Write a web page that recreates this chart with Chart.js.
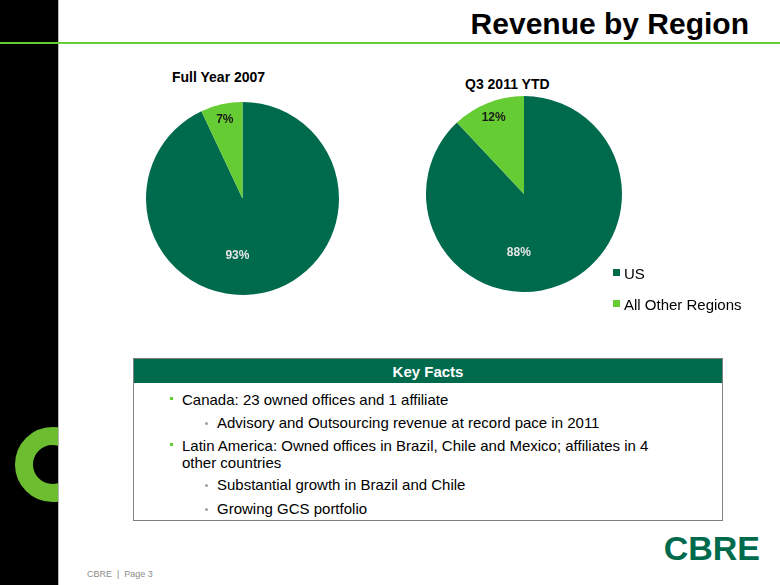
<!DOCTYPE html>
<html>
<head>
<meta charset="utf-8">
<script src="https://cdn.jsdelivr.net/npm/chart.js@4.4.1/dist/chart.umd.min.js"></script>
<style>
  html, body { margin: 0; padding: 0; background: #fff; }
  body { width: 780px; height: 585px; position: relative; overflow: hidden;
         font-family: "Liberation Sans", Arial, sans-serif; color: #000; }
  .abs { position: absolute; white-space: nowrap; }
  #sidebar { position: absolute; left: 0; top: 0; width: 58px; height: 585px; background: #000; overflow: hidden; }
  #sidebar .ring { position: absolute; left: 15px; top: 427px; width: 75px; height: 75px;
                   box-sizing: border-box; border: 18.5px solid #6cbd2f; border-radius: 50%; }
  #edge { position: absolute; left: 58px; top: 0; width: 1px; height: 585px; background: #b5b5b5; }
  #rule { position: absolute; left: 0; top: 42px; width: 780px; height: 2px; background: #66cc33; }
  #title { right: 31px; top: 9px; font-size: 30px; line-height: 30px; font-weight: bold; }
  .ptitle { font-size: 14px; line-height: 14px; font-weight: bold; }
  .pie { position: absolute; }
  .leg { font-size: 15px; line-height: 15px; }
  .sw { position: absolute; width: 7px; height: 7px; }
  #box { position: absolute; left: 133px; top: 358px; width: 590px; height: 163px;
         border: 1px solid #808080; box-sizing: border-box; }
  #boxhead { position: absolute; left: 0; top: 0; width: 100%; height: 24px; background: #006a4d;
             color: #fff; font-weight: bold; font-size: 15px; line-height: 15px; text-align: center; }
  #boxhead span { position: relative; top: 5px; }
  .fact { font-size: 15px; line-height: 15px; }
  .b1 { position: absolute; width: 3px; height: 3px; background: #66cc33; }
  .b2 { position: absolute; width: 3px; height: 3px; background: #a0a0a0; border-radius: 50%; }
  #logo { right: 20px; top: 531px; font-size: 34px; line-height: 34px; font-weight: bold; color: #006a4d; }
  #footer { left: 87px; top: 570px; font-size: 9px; line-height: 9px; color: #8c8c8c; }
</style>
</head>
<body>
<div id="sidebar"><div class="ring"></div></div>
<div id="edge"></div>
<div id="rule"></div>
<div id="title" class="abs">Revenue by Region</div>

<div id="t1" class="abs ptitle" style="left:172px; top:70px;"></div>
<div id="t2" class="abs ptitle" style="left:465px; top:77px;"></div>

<div class="pie" style="left:146px; top:102px; width:193px; height:193px;"><canvas id="pie1"></canvas></div>
<div class="pie" style="left:426px; top:96px; width:196px; height:196px;"><canvas id="pie2"></canvas></div>

<div id="legend"></div>

<div id="box"><div id="boxhead"><span>Key Facts</span></div></div>
<div class="b1" style="left:170px; top:397px;"></div>
<div class="abs fact" style="left:182px; top:392px;">Canada: 23 owned offices and 1 affiliate</div>
<div class="b2" style="left:205px; top:422px;"></div>
<div class="abs fact" style="left:217px; top:415px;">Advisory and Outsourcing revenue at record pace in 2011</div>
<div class="b1" style="left:170px; top:443px;"></div>
<div class="abs fact" style="left:182px; top:438px;">Latin America: Owned offices in Brazil, Chile and Mexico; affiliates in 4</div>
<div class="abs fact" style="left:182px; top:455px;">other countries</div>
<div class="b2" style="left:205px; top:484px;"></div>
<div class="abs fact" style="left:217px; top:477px;">Substantial growth in Brazil and Chile</div>
<div class="b2" style="left:205px; top:508px;"></div>
<div class="abs fact" style="left:217px; top:501px;">Growing GCS portfolio</div>

<div id="logo" class="abs">CBRE</div>
<div id="footer" class="abs">CBRE &nbsp;|&nbsp; Page 3</div>

<script>
const regions = ['US', 'All Other Regions'];
const fullYear2007 = [93, 7];
const q3Ytd2011 = [88, 12];
const pieTitles = ['Full Year 2007', 'Q3 2011 YTD'];
const sliceColors = ['#006a4d', '#66cc33'];
const labelColors = ['#e6e6e6', '#1a1a1a'];

document.getElementById('t1').textContent = pieTitles[0];
document.getElementById('t2').textContent = pieTitles[1];

// legend sits below-right of the second pie
const legend = document.getElementById('legend');
regions.forEach((name, i) => {
  const top = 266 + i * 31;
  const sw = document.createElement('div');
  sw.className = 'sw';
  sw.style.left = '613px';
  sw.style.top = (top + 3) + 'px';
  sw.style.background = sliceColors[i];
  legend.appendChild(sw);
  const txt = document.createElement('div');
  txt.className = 'abs leg';
  txt.style.left = '624px';
  txt.style.top = top + 'px';
  txt.textContent = name;
  legend.appendChild(txt);
});

// percent labels drawn on top of each slice
const pctLabels = {
  id: 'pctLabels',
  afterDatasetsDraw(chart) {
    const ctx = chart.ctx;
    const meta = chart.getDatasetMeta(0);
    const vals = chart.data.datasets[0].data;
    const total = vals.reduce((a, b) => a + b, 0);
    ctx.save();
    ctx.font = 'bold 12px "Liberation Sans", Arial, sans-serif';
    ctx.textAlign = 'center';
    ctx.textBaseline = 'middle';
    meta.data.forEach((arc, i) => {
      let ang = (arc.startAngle + arc.endAngle) / 2;
      let f = 0.84;
      if (vals[i] / total > 0.5) {
        // big slice: label sits just below centre, a bit to the left
        ang = -Math.PI / 2 + 185 * Math.PI / 180;
        f = 0.6;
      }
      const x = arc.x + Math.cos(ang) * arc.outerRadius * f;
      const y = arc.y + Math.sin(ang) * arc.outerRadius * f;
      ctx.fillStyle = labelColors[i];
      ctx.fillText(Math.round(vals[i] / total * 100) + '%', x, y);
    });
    ctx.restore();
  }
};

function makePie(id, values) {
  const ctx = document.getElementById(id).getContext('2d');
  return new Chart(ctx, {
    type: 'pie',
    data: {
      labels: regions,
      datasets: [{
        data: values,
        backgroundColor: sliceColors,
        borderWidth: 0,
        hoverOffset: 0
      }]
    },
    options: {
      responsive: true,
      maintainAspectRatio: false,
      animation: false,
      layout: { padding: 0 },
      plugins: {
        legend: { display: false },
        tooltip: { enabled: false }
      }
    },
    plugins: [pctLabels]
  });
}

makePie('pie1', fullYear2007);
makePie('pie2', q3Ytd2011);
</script>
</body>
</html>
